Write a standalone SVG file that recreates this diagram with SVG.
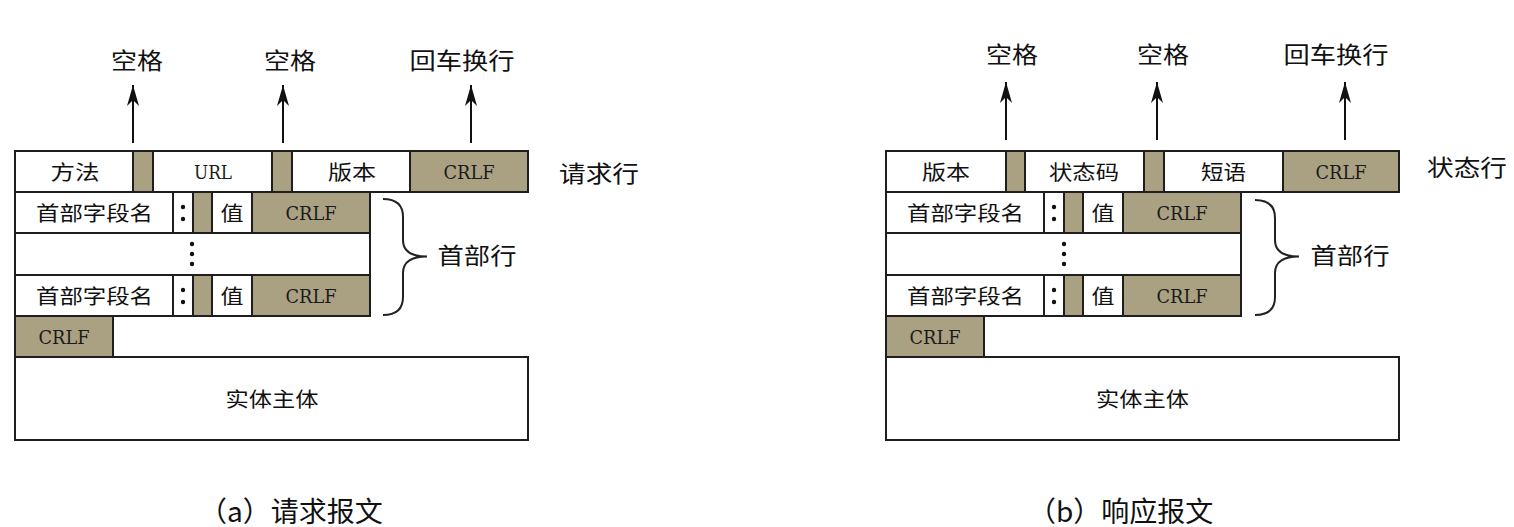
<svg xmlns="http://www.w3.org/2000/svg" width="1514" height="527" viewBox="0 0 1514 527">
<style>
.c{fill:#fff;stroke:#1e1e1e;stroke-width:2}
.s{fill:#aaa182;stroke:#1e1e1e;stroke-width:2}
.t{font-family:"Noto Sans CJK SC","Noto Sans",sans-serif;font-size:20px;text-anchor:middle;dominant-baseline:central;fill:#111}
.e{font-family:"DejaVu Serif","Liberation Serif",serif;font-size:19px;text-anchor:middle;dominant-baseline:central;fill:#1a1a1a}
.lb{font-family:"Noto Sans CJK SC","Noto Sans",sans-serif;font-size:23px;text-anchor:middle;dominant-baseline:central;fill:#111}
.cap{font-family:"Noto Sans CJK SC","Noto Sans",sans-serif;font-size:28px;dominant-baseline:central;fill:#111}
.dot{fill:#111}
.ar{stroke:#111;stroke-width:2;fill:none;marker-end:url(#ah)}
.br{stroke:#222;stroke-width:2;fill:none}
</style>
<defs>
<marker id="ah" markerUnits="userSpaceOnUse" markerWidth="24" markerHeight="16" viewBox="-22 -8 24 16" refX="0" refY="0" orient="auto">
<path d="M0,0 L-21,-6 L-15,0 L-21,6 Z" fill="#111"/>
</marker>
</defs>

<!-- ===== (a) request message ===== -->
<g id="req-line">
<rect class="c" x="15" y="151" width="118" height="41"/>
<rect class="s" x="133" y="151" width="20" height="41"/>
<rect class="c" x="153" y="151" width="119" height="41"/>
<rect class="s" x="272" y="151" width="20" height="41"/>
<rect class="c" x="292" y="151" width="118" height="41"/>
<rect class="s" x="410" y="151" width="118" height="41"/>
<text class="t" x="75" y="171.5" textLength="49" lengthAdjust="spacingAndGlyphs">方法</text>
<text class="e" x="213" y="171.5" textLength="38" lengthAdjust="spacingAndGlyphs">URL</text>
<text class="t" x="352" y="171.5" textLength="48" lengthAdjust="spacingAndGlyphs">版本</text>
<text class="e" x="469" y="171.5" textLength="51" lengthAdjust="spacingAndGlyphs">CRLF</text>
</g>
<g id="req-header1">
<rect class="c" x="15" y="192" width="158" height="41"/>
<rect class="c" x="173" y="192" width="20" height="41"/>
<rect class="s" x="193" y="192" width="19" height="41"/>
<rect class="c" x="212" y="192" width="40" height="41"/>
<rect class="s" x="252" y="192" width="118" height="41"/>
<text class="t" x="94.5" y="212.5" textLength="117" lengthAdjust="spacingAndGlyphs">首部字段名</text>
<circle class="dot" cx="183" cy="207" r="2.2"/>
<circle class="dot" cx="183" cy="219" r="2.2"/>
<text class="t" x="232" y="212.5" textLength="23" lengthAdjust="spacingAndGlyphs">值</text>
<text class="e" x="311" y="212.5" textLength="51" lengthAdjust="spacingAndGlyphs">CRLF</text>
</g>
<g id="req-dots">
<rect class="c" x="15" y="233" width="355" height="42"/>
<circle class="dot" cx="192" cy="244" r="2.2"/>
<circle class="dot" cx="192" cy="254" r="2.2"/>
<circle class="dot" cx="192" cy="264" r="2.2"/>
</g>
<g id="req-header2">
<rect class="c" x="15" y="275" width="158" height="41"/>
<rect class="c" x="173" y="275" width="20" height="41"/>
<rect class="s" x="193" y="275" width="19" height="41"/>
<rect class="c" x="212" y="275" width="40" height="41"/>
<rect class="s" x="252" y="275" width="118" height="41"/>
<text class="t" x="94.5" y="295.5" textLength="117" lengthAdjust="spacingAndGlyphs">首部字段名</text>
<circle class="dot" cx="183" cy="290" r="2.2"/>
<circle class="dot" cx="183" cy="302" r="2.2"/>
<text class="t" x="232" y="295.5" textLength="23" lengthAdjust="spacingAndGlyphs">值</text>
<text class="e" x="311" y="295.5" textLength="51" lengthAdjust="spacingAndGlyphs">CRLF</text>
</g>
<g id="req-crlf">
<rect class="s" x="15" y="316" width="98" height="41"/>
<text class="e" x="64" y="336.5" textLength="51" lengthAdjust="spacingAndGlyphs">CRLF</text>
</g>
<g id="req-body">
<rect class="c" x="15" y="357" width="513" height="83"/>
<text class="t" x="272" y="398.5" textLength="93" lengthAdjust="spacingAndGlyphs">实体主体</text>
</g>
<g id="req-labels">
<text class="lb" x="137" y="59" textLength="52" lengthAdjust="spacingAndGlyphs">空格</text>
<text class="lb" x="290" y="59" textLength="52" lengthAdjust="spacingAndGlyphs">空格</text>
<text class="lb" x="462" y="59" textLength="105" lengthAdjust="spacingAndGlyphs">回车换行</text>
<text class="lb" x="599" y="172" font-size="24" textLength="80" lengthAdjust="spacingAndGlyphs">请求行</text>
<text class="lb" x="477" y="254" font-size="24" textLength="79" lengthAdjust="spacingAndGlyphs">首部行</text>
<text class="cap" x="199" y="510">（a）请求报文</text>
</g>

<!-- ===== (b) response message ===== -->
<g id="resp-line">
<rect class="c" x="886" y="151" width="120" height="41"/>
<rect class="s" x="1006" y="151" width="19" height="41"/>
<rect class="c" x="1025" y="151" width="119" height="41"/>
<rect class="s" x="1144" y="151" width="20" height="41"/>
<rect class="c" x="1164" y="151" width="119" height="41"/>
<rect class="s" x="1283" y="151" width="116" height="41"/>
<text class="t" x="946" y="171.5" textLength="48" lengthAdjust="spacingAndGlyphs">版本</text>
<text class="t" x="1084" y="171.5" textLength="70" lengthAdjust="spacingAndGlyphs">状态码</text>
<text class="t" x="1223.5" y="171.5" textLength="45" lengthAdjust="spacingAndGlyphs">短语</text>
<text class="e" x="1341" y="171.5" textLength="51" lengthAdjust="spacingAndGlyphs">CRLF</text>
</g>
<g id="resp-header1">
<rect class="c" x="886" y="192" width="158" height="41"/>
<rect class="c" x="1044" y="192" width="20" height="41"/>
<rect class="s" x="1064" y="192" width="19" height="41"/>
<rect class="c" x="1083" y="192" width="40" height="41"/>
<rect class="s" x="1123" y="192" width="118" height="41"/>
<text class="t" x="965.5" y="212.5" textLength="117" lengthAdjust="spacingAndGlyphs">首部字段名</text>
<circle class="dot" cx="1054" cy="207" r="2.2"/>
<circle class="dot" cx="1054" cy="219" r="2.2"/>
<text class="t" x="1103" y="212.5" textLength="23" lengthAdjust="spacingAndGlyphs">值</text>
<text class="e" x="1182" y="212.5" textLength="51" lengthAdjust="spacingAndGlyphs">CRLF</text>
</g>
<g id="resp-dots">
<rect class="c" x="886" y="233" width="355" height="42"/>
<circle class="dot" cx="1064" cy="244" r="2.2"/>
<circle class="dot" cx="1064" cy="254" r="2.2"/>
<circle class="dot" cx="1064" cy="264" r="2.2"/>
</g>
<g id="resp-header2">
<rect class="c" x="886" y="275" width="158" height="41"/>
<rect class="c" x="1044" y="275" width="20" height="41"/>
<rect class="s" x="1064" y="275" width="19" height="41"/>
<rect class="c" x="1083" y="275" width="40" height="41"/>
<rect class="s" x="1123" y="275" width="118" height="41"/>
<text class="t" x="965.5" y="295.5" textLength="117" lengthAdjust="spacingAndGlyphs">首部字段名</text>
<circle class="dot" cx="1054" cy="290" r="2.2"/>
<circle class="dot" cx="1054" cy="302" r="2.2"/>
<text class="t" x="1103" y="295.5" textLength="23" lengthAdjust="spacingAndGlyphs">值</text>
<text class="e" x="1182" y="295.5" textLength="51" lengthAdjust="spacingAndGlyphs">CRLF</text>
</g>
<g id="resp-crlf">
<rect class="s" x="886" y="316" width="98" height="41"/>
<text class="e" x="935" y="336.5" textLength="51" lengthAdjust="spacingAndGlyphs">CRLF</text>
</g>
<g id="resp-body">
<rect class="c" x="886" y="357" width="513" height="83"/>
<text class="t" x="1142.5" y="398.5" textLength="93" lengthAdjust="spacingAndGlyphs">实体主体</text>
</g>
<g id="resp-labels">
<text class="lb" x="1012" y="53" textLength="52" lengthAdjust="spacingAndGlyphs">空格</text>
<text class="lb" x="1163" y="53" textLength="52" lengthAdjust="spacingAndGlyphs">空格</text>
<text class="lb" x="1336" y="53" textLength="105" lengthAdjust="spacingAndGlyphs">回车换行</text>
<text class="lb" x="1467" y="166" font-size="24" textLength="80" lengthAdjust="spacingAndGlyphs">状态行</text>
<text class="lb" x="1350" y="254" font-size="24" textLength="79" lengthAdjust="spacingAndGlyphs">首部行</text>
<text class="cap" x="1028" y="510">（b）响应报文</text>
</g>

<!-- ===== connectors ===== -->
<g id="connectors">
<line class="ar" x1="133" y1="143" x2="133" y2="85"/>
<line class="ar" x1="283" y1="143" x2="283" y2="85"/>
<line class="ar" x1="471" y1="143" x2="471" y2="85"/>
<line class="ar" x1="1006" y1="140" x2="1006" y2="82"/>
<line class="ar" x1="1157" y1="140" x2="1157" y2="82"/>
<line class="ar" x1="1345" y1="140" x2="1345" y2="82"/>
<path class="br" d="M383,199 C397,199 403,205 403,217 L403,240 C403,250 410,256.5 427,256.5 C410,256.5 403,263 403,273 L403,297 C403,309 397,315 383,315"/>
<path class="br" d="M1255,200 C1269,200 1275,206 1275,218 L1275,240 C1275,250 1282,256.5 1299,256.5 C1282,256.5 1275,263 1275,273 L1275,297 C1275,309 1269,315 1255,315"/>
</g>
</svg>
